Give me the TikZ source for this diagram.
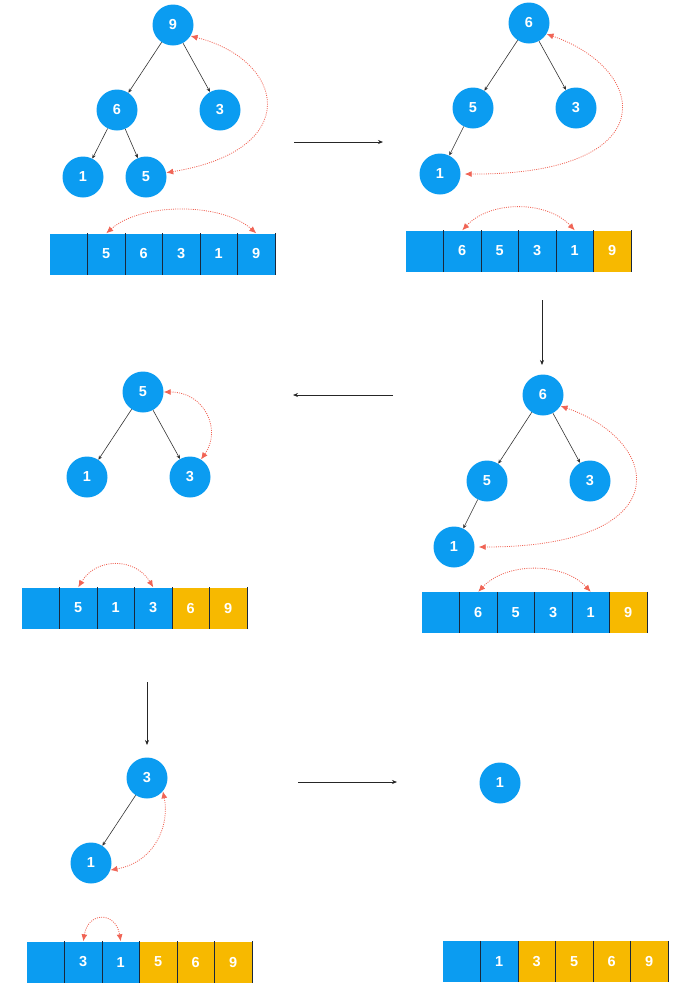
\documentclass[tikz,border=0pt]{standalone}
\usepackage{fontspec}
\setmainfont{Liberation Sans}
\usetikzlibrary{arrows.meta}

\definecolor{hblue}{RGB}{11,156,241}
\definecolor{hyellow}{RGB}{247,185,0}
\definecolor{hred}{RGB}{240,100,85}
\definecolor{hline}{RGB}{25,40,60}

\begin{document}
\begin{tikzpicture}[x=1pt,y=-1pt,
   vertex/.style={circle,fill=hblue,minimum size=41pt,inner sep=0pt,text=white,font=\bfseries\fontsize{14.5}{14.5}\selectfont},
   cell/.style={rectangle,minimum width=37.5pt,minimum height=41pt,inner sep=0pt,text=white,font=\bfseries\fontsize{14.5}{14.5}\selectfont},
   link/.style={draw=black!80,line width=0.6pt,-{Stealth[length=4pt,width=3.5pt]}},
   stage/.style={draw=black!85,line width=0.7pt,-{Stealth[length=5pt,width=4pt]}},
   swaparrow/.style={draw=hred,line width=0.8pt,dash pattern=on 1pt off 1.2pt,
      {Latex[length=7pt,width=6pt]}-{Latex[length=7pt,width=6pt]}},
   divider/.style={draw=hline,line width=0.7pt}]
   \useasboundingbox (0,0) rectangle (680,997);

   % step 1
   \node[vertex] (t1_9) at (173,25) {9};
   \node[vertex] (t1_6) at (117,110) {6};
   \node[vertex] (t1_3) at (220,110) {3};
   \node[vertex] (t1_1) at (83,177) {1};
   \node[vertex] (t1_5) at (146,177) {5};
   \path[link] (t1_9) edge (t1_6) (t1_9) edge (t1_3)
      (t1_6) edge (t1_1) (t1_6) edge (t1_5);
   \draw[swaparrow] (t1_9.-32) .. controls (285,60) and (305,150) .. (t1_5.12);
   \foreach \v/\c [count=\i] in {{}/hblue,5/hblue,6/hblue,3/hblue,1/hblue,9/hblue}
      \node[cell,fill=\c] (a1_\i) at ({68.75+(\i-1)*37.5},254) {\v};
   \foreach \i in {1,...,6}
      \draw[divider] (a1_\i.north east) -- (a1_\i.south east);
   \draw[swaparrow] (a1_2.north) .. controls +(35,-31) and +(-35,-31) .. (a1_6.north);

   % step 2
   \node[vertex] (t2_6) at (529,23) {6};
   \node[vertex] (t2_5) at (473,108) {5};
   \node[vertex] (t2_3) at (576,108) {3};
   \node[vertex] (t2_1) at (440,174) {1};
   \path[link] (t2_6) edge (t2_5) (t2_6) edge (t2_3) (t2_5) edge (t2_1);
   \draw[swaparrow,shorten >=4pt] (t2_6.-32) .. controls (650,70) and (665,175) .. (t2_1.east);
   \foreach \v/\c [count=\i] in {{}/hblue,6/hblue,5/hblue,3/hblue,1/hblue,9/hyellow}
      \node[cell,fill=\c] (a2_\i) at ({424.75+(\i-1)*37.5},251) {\v};
   \foreach \i in {1,...,6}
      \draw[divider] (a2_\i.north east) -- (a2_\i.south east);
   \draw[swaparrow] (a2_2.north) .. controls +(28,-30) and +(-28,-30) .. (a2_5.north);

   % step 3
   \node[vertex] (t3_6) at (543,395) {6};
   \node[vertex] (t3_5) at (487,481) {5};
   \node[vertex] (t3_3) at (590,481) {3};
   \node[vertex] (t3_1) at (454,547) {1};
   \path[link] (t3_6) edge (t3_5) (t3_6) edge (t3_3) (t3_5) edge (t3_1);
   \draw[swaparrow,shorten >=4pt] (t3_6.-32) .. controls (664,442) and (679,547) .. (t3_1.east);
   \foreach \v/\c [count=\i] in {{}/hblue,6/hblue,5/hblue,3/hblue,1/hblue,9/hyellow}
      \node[cell,fill=\c] (a3_\i) at ({440.75+(\i-1)*37.5},612.5) {\v};
   \foreach \i in {1,...,6}
      \draw[divider] (a3_\i.north east) -- (a3_\i.south east);
   \draw[swaparrow] (a3_2.north) .. controls +(28,-30) and +(-28,-30) .. (a3_5.north);

   % step 4
   \node[vertex] (t4_5) at (143,392) {5};
   \node[vertex] (t4_1) at (87,477) {1};
   \node[vertex] (t4_3) at (190,477) {3};
   \path[link] (t4_5) edge (t4_1) (t4_5) edge (t4_3);
   \draw[swaparrow] (t4_5.east) .. controls (205,392) and (222,430) .. (t4_3.58);
   \foreach \v/\c [count=\i] in {{}/hblue,5/hblue,1/hblue,3/hblue,6/hyellow,9/hyellow}
      \node[cell,fill=\c] (a4_\i) at ({40.75+(\i-1)*37.5},608) {\v};
   \foreach \i in {1,...,6}
      \draw[divider] (a4_\i.north east) -- (a4_\i.south east);
   \draw[swaparrow] (a4_2.north) .. controls +(18,-30) and +(-18,-30) .. (a4_4.north);

   % step 5
   \node[vertex] (t5_3) at (147,778) {3};
   \node[vertex] (t5_1) at (91,863) {1};
   \path[link] (t5_3) edge (t5_1);
   \draw[swaparrow] (t5_3.-40) .. controls (170,825) and (155,862) .. (t5_1.-20);
   \foreach \v/\c [count=\i] in {{}/hblue,3/hblue,1/hblue,5/hyellow,6/hyellow,9/hyellow}
      \node[cell,fill=\c] (a5_\i) at ({45.75+(\i-1)*37.5},962) {\v};
   \foreach \i in {1,...,6}
      \draw[divider] (a5_\i.north east) -- (a5_\i.south east);
   \draw[swaparrow] (a5_2.north) .. controls +(5,-30) and +(-5,-30) .. (a5_3.north);

   % step 6
   \node[vertex] (t6_1) at (500,783) {1};
   \foreach \v/\c [count=\i] in {{}/hblue,1/hblue,3/hyellow,5/hyellow,6/hyellow,9/hyellow}
      \node[cell,fill=\c] (a6_\i) at ({461.75+(\i-1)*37.5},961.5) {\v};
   \foreach \i in {1,...,6}
      \draw[divider] (a6_\i.north east) -- (a6_\i.south east);

   % moves between steps
   \coordinate (m1s) at (294,142);  \coordinate (m1e) at (383,142);
   \coordinate (m2s) at (542,300);  \coordinate (m2e) at (542,365);
   \coordinate (m3s) at (393,395);  \coordinate (m3e) at (293,395);
   \coordinate (m4s) at (147,682);  \coordinate (m4e) at (147,745);
   \coordinate (m5s) at (298,782);  \coordinate (m5e) at (397,782);
   \foreach \k in {1,...,5}
      \draw[stage] (m\k s) -- (m\k e);
\end{tikzpicture}
\end{document}
